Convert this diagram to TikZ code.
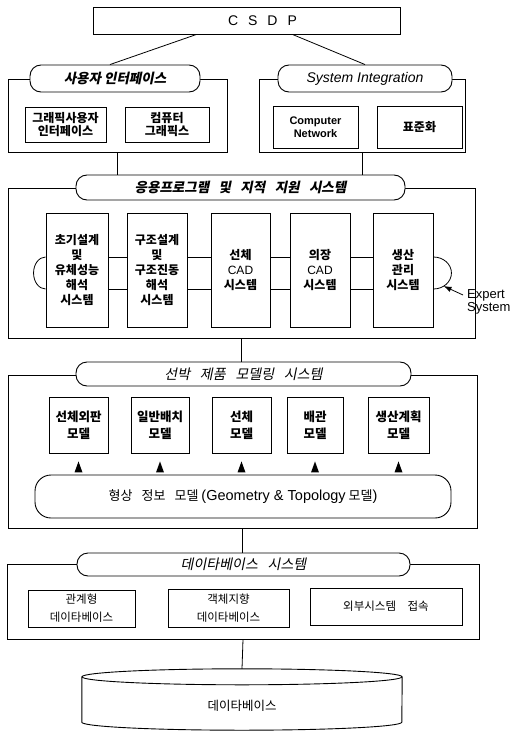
\documentclass[tikz,border=0pt]{standalone}
\usepackage{fontspec}
\setmainfont{Noto Sans CJK KR}
\newfontfamily\kri[FakeSlant=0.2]{Noto Sans CJK KR}
\newfontfamily\lat{Liberation Sans}
\usetikzlibrary{calc,arrows.meta}
\newcommand{\ksp}{\hspace{0.7em}}
\begin{document}
\begin{tikzpicture}[x=1pt,y=-1pt,
  box/.style={draw, line width=0.9pt, inner sep=0pt, align=center},
  pill/.style={box, fill=white, rounded corners=11pt},
  ttl/.style={font=\kri\bfseries\fontsize{13.5}{16}\selectfont},
  ttlr/.style={font=\kri\fontsize{14}{16}\selectfont},
  bt/.style={font=\bfseries\fontsize{12}{12.5}\selectfont},
  apptxt/.style={font=\bfseries\fontsize{12}{15}\selectfont},
  mt/.style={font=\bfseries\fontsize{12.5}{17}\selectfont},
  dt/.style={font=\fontsize{11.5}{18}\selectfont},
  conn/.style={line width=0.8pt},
  tri/.style={fill=black}
]
\useasboundingbox (0,0) rectangle (518,733);

% top
\node[box, minimum width=307pt, minimum height=27pt, font=\lat\fontsize{14}{16}\selectfont] (csdp) at (246.5,20.5) {\hspace{32pt}C\hspace{10pt}S\hspace{10pt}D\hspace{10pt}P};

% user interface panel
\node[box, minimum width=219pt, minimum height=73pt] (uip) at (117.5,115.5) {};
\node[pill, ttl, minimum width=170pt, minimum height=27pt] (uit) at (115,78.5) {사용자 인터페이스};
\node[box, bt, minimum width=81pt, minimum height=35pt] (ui1) at (65.5,124.5) {그래픽사용자\\인터페이스};
\node[box, bt, minimum width=84pt, minimum height=35pt] (ui2) at (167,124.5) {컴퓨터\\그래픽스};

% system integration panel
\node[box, minimum width=206pt, minimum height=73pt] (sip) at (362,115.5) {};
\node[pill, minimum width=174pt, minimum height=27pt, font=\lat\itshape\fontsize{14}{16}\selectfont] (sit) at (365,78.5) {System Integration};
\node[box, minimum width=85pt, minimum height=42pt, font=\lat\bfseries\fontsize{11}{12.5}\selectfont] (si1) at (315.5,127) {Computer\\Network};
\node[box, bt, minimum width=85pt, minimum height=42pt] (si2) at (419.5,127) {표준화};

\draw[conn] ([xshift=-50pt]csdp.south) -- ([xshift=-5pt]uit.north);
\draw[conn] ([xshift=46pt]csdp.south) -- (sit.north);

% application panel
\node[box, minimum width=467pt, minimum height=150pt] (app) at (241.5,263) {};
\node[pill, ttl, minimum width=329pt, minimum height=25pt] (appt) at (240.5,187.5) {응용프로그램\ksp 및\ksp 지적\ksp 지원\ksp 시스템};
\draw[conn] (uip.south) -- (uip.south |- appt.north);
\draw[conn] (sip.south) -- (sip.south |- appt.north);

\node[box, apptxt, minimum width=62pt, minimum height=114pt] (a1) at (77,270) {초기설계\\및\\유체성능\\해석\\시스템};
\node[box, apptxt, minimum width=60pt, minimum height=114pt] (a2) at (157,270) {구조설계\\및\\구조진동\\해석\\시스템};
\node[box, apptxt, minimum width=59pt, minimum height=114pt] (a3) at (240.5,270) {선체\\{\lat\mdseries CAD}\\시스템};
\node[box, apptxt, minimum width=60pt, minimum height=114pt] (a4) at (320,270) {의장\\{\lat\mdseries CAD}\\시스템};
\node[box, apptxt, minimum width=60pt, minimum height=114pt] (a5) at (403,270) {생산\\관리\\시스템};

\coordinate (hy1) at (0,257);
\coordinate (hy2) at (0,289);
\foreach \p/\q in {a1/a2,a2/a3,a3/a4,a4/a5}{
  \draw[conn] (\p.east |- hy1) -- (\q.west |- hy1);
  \draw[conn] (\p.east |- hy2) -- (\q.west |- hy2);
}
\draw[conn] (a1.west |- hy1) arc[start angle=90, end angle=270, x radius=12pt, y radius=16pt];
\draw[conn] (a5.east |- hy1) arc[start angle=90, end angle=-90, x radius=18pt, y radius=16pt];
\coordinate (exptip) at (443.5,286);
\node[anchor=north west, align=left, inner sep=0pt, font=\lat\fontsize{13}{13.5}\selectfont] (exp) at (467,289) {Expert\\System};
\draw[line width=0.8pt, -{Latex[length=8pt,width=5.5pt]}] ($(exp.north west)+(-4,6)$) -- (exptip);

% modeling panel
\node[box, minimum width=469pt, minimum height=153pt] (mod) at (242.5,451.5) {};
\node[pill, ttlr, minimum width=335pt, minimum height=24pt] (modt) at (243.5,374) {선박\ksp 제품\ksp 모델링\ksp 시스템};
\draw[conn] (app.south) -- (app.south |- modt.north);

\node[box, mt, minimum width=59pt, minimum height=56pt] (m1) at (78.5,425) {선체외판\\모델};
\node[box, mt, minimum width=58pt, minimum height=56pt] (m2) at (160,425) {일반배치\\모델};
\node[box, mt, minimum width=59pt, minimum height=56pt] (m3) at (241.5,425) {선체\\모델};
\node[box, mt, minimum width=56pt, minimum height=56pt] (m4) at (315,425) {배관\\모델};
\node[box, mt, minimum width=61pt, minimum height=56pt] (m5) at (398.5,425) {생산계획\\모델};

\node[box, rounded corners=16pt, minimum width=416pt, minimum height=43pt, font=\fontsize{13}{15}\selectfont] (geo) at (243,496.5)
  {형상\ksp 정보\ksp 모델 {\lat\fontsize{14.5}{15}\selectfont (Geometry \& Topology} 모델{\lat\fontsize{14.5}{15}\selectfont )}};
\foreach \m in {m1,m2,m3,m4,m5}{
  \fill[tri] ($(\m.south)+(0,8)$) -- ($(\m.south)+(-4,19)$) -- ($(\m.south)+(4,19)$) -- cycle;
}

% database system panel
\node[box, minimum width=472pt, minimum height=75pt] (dbp) at (243,601.5) {};
\node[pill, ttlr, minimum width=333pt, minimum height=23pt] (dbt) at (243.5,564.5) {데이타베이스\ksp 시스템};
\draw[conn] (mod.south) -- (mod.south |- dbt.north);

\node[box, dt, minimum width=107pt, minimum height=37pt] (d1) at (81.5,608.5) {관계형\\데이타베이스};
\node[box, dt, minimum width=121pt, minimum height=38pt] (d2) at (228.5,608) {객체지향\\데이타베이스};
\node[box, dt, minimum width=152pt, minimum height=37pt] (d3) at (386,606.5) {외부시스템\hspace{1em}접속};

% database cylinder
\node[inner sep=0pt, minimum width=320pt, minimum height=61pt] (cyl) at (242,699.5) {};
\draw[line width=0.9pt] ($(cyl.north)+(0,8)$) ellipse [x radius=160pt, y radius=8pt];
\draw[line width=0.9pt] ($(cyl.north west)+(0,8)$) -- ($(cyl.south west)+(0,-8)$)
  arc[start angle=180, end angle=360, x radius=160pt, y radius=8pt] -- ($(cyl.north east)+(0,8)$);
\node[font=\fontsize{12.5}{14}\selectfont] (dbx) at (242,706) {데이타베이스};
\draw[conn] (dbp.south) -- (cyl.north);
\end{tikzpicture}
\end{document}
